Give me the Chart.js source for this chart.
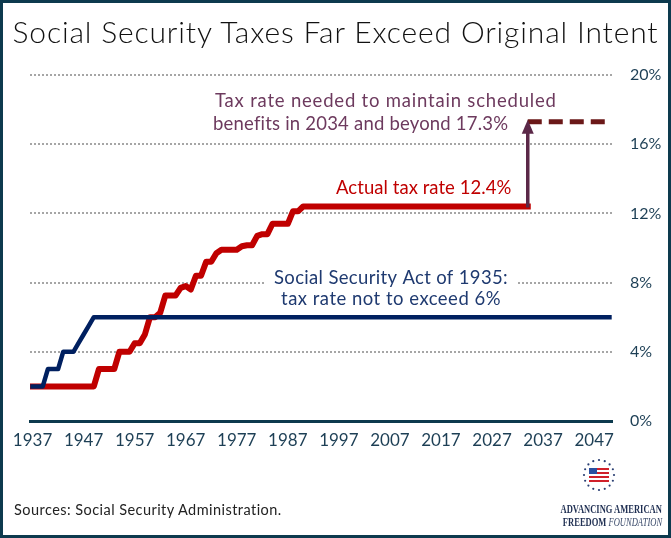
<!DOCTYPE html>
<html><head><meta charset="utf-8">
<script src="https://cdn.jsdelivr.net/npm/chart.js@4"></script>
<style>
html,body{margin:0;padding:0;background:#fff;}
#wrap{position:relative;width:671px;height:538px;overflow:hidden;background:#fff;}
#frame{position:absolute;left:0;top:0;width:671px;height:538px;box-sizing:border-box;border:3px solid #0d3a4e;pointer-events:none;}
canvas{position:absolute;left:0;top:0;}
#title{position:absolute;left:0;top:13px;width:671px;text-align:center;font-family:Lato,sans-serif;font-weight:300;font-size:30px;letter-spacing:0.85px;color:#111;white-space:nowrap;}
#src{position:absolute;left:14px;top:501px;font-family:Lato,sans-serif;font-size:14.5px;letter-spacing:0.45px;color:#222;white-space:nowrap;}
.logo{position:absolute;right:9px;font-family:"Liberation Serif",serif;font-weight:bold;font-size:11.5px;color:#1f2f52;white-space:nowrap;transform-origin:right center;transform:scaleX(0.74);}
.logo i{font-weight:normal;color:#3a4a6a;}
</style></head>
<body>
<div id="wrap">
<canvas id="c" width="671" height="538"></canvas>
<div id="title">Social Security Taxes Far Exceed Original Intent</div>
<div id="src">Sources: Social Security Administration.</div>
<div class="logo" style="top:503px">ADVANCING AMERICAN</div>
<div class="logo" style="top:516px">FREEDOM <i>FOUNDATION</i></div>
<div id="frame"></div>
</div>
<script>
// Social Security Act of 1935 schedule (combined rate, %)
const actYears = [1937, 1939, 1940, 1942, 1943, 1945, 1946, 1947, 1948, 1949, 2050];
const actRates = [2, 2, 3, 3, 4, 4, 4.5, 5, 5.5, 6, 6];
// Actual combined OASDI tax rate (%)
const actualYears = [1937, 1949, 1950, 1953, 1954, 1956, 1957, 1958, 1959, 1960, 1961, 1962, 1963, 1965, 1966, 1967, 1968, 1969, 1970, 1971, 1972, 1973, 1974, 1977, 1978, 1979, 1980, 1981, 1982, 1983, 1984, 1987, 1988, 1989, 1990, 2034];
const actualRates = [2, 2, 3, 3, 4, 4, 4.5, 4.5, 5, 6, 6, 6.25, 7.25, 7.25, 7.7, 7.8, 7.6, 8.4, 8.4, 9.2, 9.2, 9.7, 9.9, 9.9, 10.1, 10.16, 10.16, 10.7, 10.8, 10.8, 11.4, 11.4, 12.12, 12.12, 12.4, 12.4];
// Rate needed from 2034
const neededYears = [2034, 2050];
const neededRates = [17.3, 17.3];
// Axis ticks
const xTickYears = [1937, 1947, 1957, 1967, 1977, 1987, 1997, 2007, 2017, 2027, 2037, 2047];
const yTickValues = [0, 4, 8, 12, 16, 20];

const toPts = (xs, ys) => xs.map((x, i) => ({x: x, y: ys[i]}));

const annotPlugin = {
  id: 'annot',
  beforeDatasetsDraw(chart) {
    const ctx = chart.ctx;
    ctx.save();
    ctx.fillStyle = '#ffffff';
    ctx.fillRect(266, 268, 251, 42);
    ctx.restore();
  },
  afterDatasetsDraw(chart) {
    const ctx = chart.ctx;
    const xs = chart.scales.x, ys = chart.scales.y;
    // arrow
    const ax = xs.getPixelForValue(neededYears[0]);
    const y0 = ys.getPixelForValue(actualRates[actualRates.length - 1]);
    const y1 = ys.getPixelForValue(neededRates[0]);
    ctx.save();
    ctx.strokeStyle = '#5b2848';
    ctx.fillStyle = '#5b2848';
    ctx.lineWidth = 3.5;
    ctx.beginPath();
    ctx.moveTo(ax, y0 + 1);
    ctx.lineTo(ax, y1 + 10);
    ctx.stroke();
    ctx.beginPath();
    ctx.moveTo(ax, y1 - 2);
    ctx.lineTo(ax - 6, y1 + 12);
    ctx.lineTo(ax + 6, y1 + 12);
    ctx.closePath();
    ctx.fill();
    ctx.restore();

    const txt = (s, x, y, spacing, maxW) => {
      ctx.letterSpacing = spacing + 'px';
      ctx.fillText(s, x, y, maxW);
    };
    ctx.save();
    ctx.font = '18.5px Lato, sans-serif';
    ctx.textBaseline = 'middle';
    ctx.textAlign = 'left';
    ctx.fillStyle = '#6d3a5e';
    txt('Tax rate needed to maintain scheduled', 215, 101, 0.8, 342);
    txt('benefits in 2034 and beyond 17.3%', 213, 124, 0.2, 296);
    ctx.fillStyle = '#c00000';
    txt('Actual tax rate 12.4%', 336, 188, 0.05, 178);
    ctx.textAlign = 'center';
    ctx.fillStyle = '#1f3a70';
    txt('Social Security Act of 1935:', 391, 278, 0.35, 234);
    txt('tax rate not to exceed 6%', 391, 299, 0.5, 220);
    ctx.restore();
  },
  afterDraw(chart) {
    // logo emblem
    const ctx = chart.ctx;
    const cx = 599, cy = 475, r = 15;
    ctx.save();
    ctx.fillStyle = '#2a3f73';
    for (let i = 0; i < 16; i++) {
      const a = i / 16 * Math.PI * 2;
      ctx.beginPath();
      ctx.arc(cx + r * Math.cos(a), cy + r * Math.sin(a), 1.1, 0, Math.PI * 2);
      ctx.fill();
    }
    for (let s = 0; s < 7; s++) {
      ctx.fillStyle = s % 2 === 0 ? '#d0202a' : '#ffffff';
      ctx.fillRect(cx - 10, cy - 7 + s * 2, 20, 2);
    }
    ctx.fillStyle = '#2a4fa0';
    ctx.fillRect(cx - 10, cy - 7, 8, 6);
    ctx.restore();
  }
};

new Chart(document.getElementById('c'), {
  type: 'line',
  data: {
    datasets: [
      {data: toPts(actYears, actRates), borderColor: '#002060', borderWidth: 4.5, pointRadius: 0, tension: 0, borderCapStyle: 'square', borderJoinStyle: 'round'},
      {data: toPts(actualYears, actualRates), borderColor: '#c00000', borderWidth: 6, pointRadius: 0, tension: 0, borderCapStyle: 'square', borderJoinStyle: 'round'},
      {data: toPts(neededYears, neededRates), borderColor: '#6b1818', borderWidth: 5, pointRadius: 0, tension: 0, borderDash: [14, 7], borderCapStyle: 'butt'}
    ]
  },
  options: {
    responsive: false, animation: false, devicePixelRatio: 1,
    layout: {padding: {left: 30, top: 75, right: 0, bottom: 0}},
    plugins: {legend: {display: false}, tooltip: {enabled: false}, title: {display: false}},
    scales: {
      x: {
        type: 'linear', min: 1936.5, max: 2050.5,
        grid: {display: false, drawTicks: false},
        border: {display: true, color: '#0d3a4e', width: 3},
        ticks: {padding: 9, color: '#1d3f55', font: {family: 'Lato', size: 17}, autoSkip: false, maxRotation: 0, callback: v => String(v)},
        afterBuildTicks: s => { s.ticks = xTickYears.map(v => ({value: v})); },
        afterFit: s => { s.height = 117; }
      },
      y: {
        position: 'right', min: 0, max: 20,
        ticks: {padding: 18, color: '#1d3f55', font: {family: 'Lato', size: 16}, callback: v => v + '%'},
        afterBuildTicks: s => { s.ticks = yTickValues.map(v => ({value: v})); },
        grid: {color: c => (c.tick && c.tick.value === 0) ? 'rgba(0,0,0,0)' : '#a6a6a6', lineWidth: 2, drawTicks: false},
        border: {display: false, dash: [2, 2]},
        afterFit: s => { s.width = 59; }
      }
    }
  },
  plugins: [annotPlugin]
});
</script>
</body></html>
